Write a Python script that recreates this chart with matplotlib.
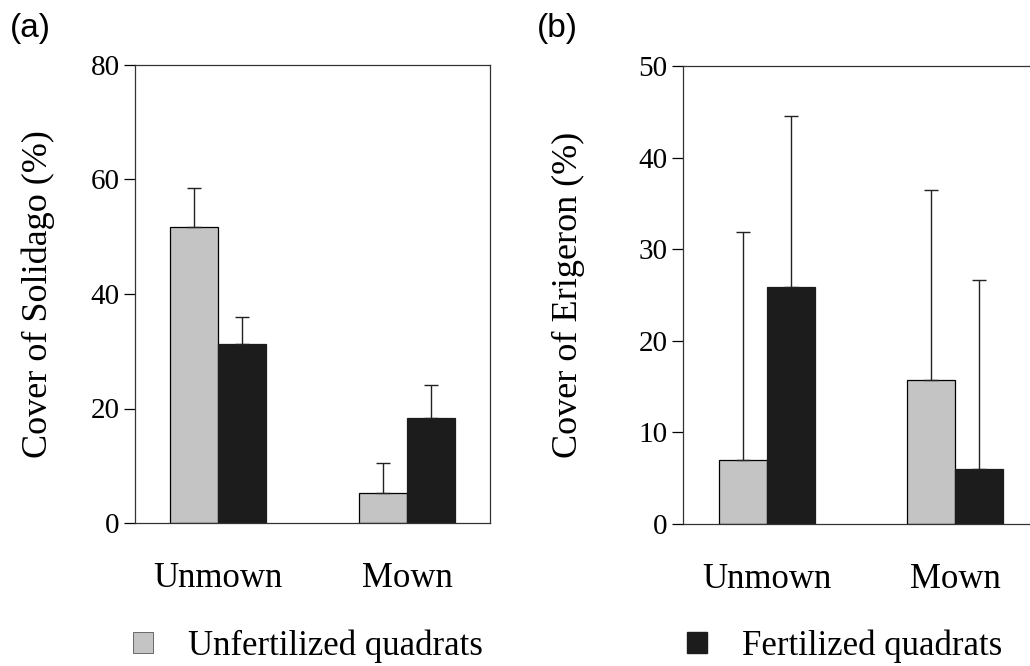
import numpy as np
import matplotlib
matplotlib.use("Agg")
import matplotlib.pyplot as plt
from matplotlib.patches import Patch

# data
groups = ["Unmown", "Mown"]
solidago_unfert = [51.7, 5.2]
solidago_unfert_err = [6.8, 5.3]
solidago_fert = [31.3, 18.3]
solidago_fert_err = [4.7, 5.8]
erigeron_unfert = [7.0, 15.7]
erigeron_unfert_err = [24.9, 20.8]
erigeron_fert = [25.9, 6.0]
erigeron_fert_err = [18.6, 20.6]

light = "#c4c4c4"
dark = "#1c1c1c"
serif = "Liberation Serif"

plt.rcParams['font.family'] = [serif, 'DejaVu Serif']

fig = plt.figure(figsize=(10.30, 6.66), dpi=100)

def panel(rect, unfert, unfert_err, fert, fert_err, ylim, yticks, ylabel, xlim, label_x):
    ax = fig.add_axes(rect)
    x = np.arange(len(groups))
    w = 0.254
    ekw = dict(ecolor="#222222", elinewidth=1, capsize=5, capthick=1)
    ax.bar(x - w/2, unfert, w, color=light, edgecolor="black", linewidth=0.9,
           yerr=[np.zeros(len(unfert)), unfert_err], error_kw=ekw, zorder=2)
    ax.bar(x + w/2, fert, w, color=dark, edgecolor=dark, linewidth=0.9,
           yerr=[np.zeros(len(fert)), fert_err], error_kw=ekw, zorder=2)
    ax.set_xlim(*xlim)
    ax.set_ylim(*ylim)
    ax.set_yticks(yticks)
    ax.set_xticks(x)
    ax.set_xticklabels(groups, fontsize=25)
    ax.tick_params(axis='x', length=0, pad=28)
    ax.tick_params(axis='y', direction='out', length=8, width=0.9, pad=3, labelsize=21)
    for s in ax.spines.values():
        s.set_linewidth(0.9)
        s.set_color("#333333")
    ax.set_ylabel(ylabel, fontsize=26)
    ax.yaxis.set_label_coords(label_x, 0.5)
    return ax

ax1 = panel([135/1030, 1-523/666, 355/1030, 458/666],
            solidago_unfert, solidago_unfert_err, solidago_fert, solidago_fert_err,
            (0, 80), [0, 20, 40, 60, 80], "Cover of Solidago (%)",
            (-0.439, 1.439), -0.225)
ax2 = panel([683/1030, 1-524/666, 355/1030, 458/666],
            erigeron_unfert, erigeron_unfert_err, erigeron_fert, erigeron_fert_err,
            (0, 50), [0, 10, 20, 30, 40, 50], "Cover of Erigeron (%)",
            (-0.447, 1.44), -0.276)
ax2.spines['right'].set_visible(False)

fig.text(10/1030, 1-28/666, "(a)", family="Liberation Sans", fontsize=24, va="center", ha="left")
fig.text(537/1030, 1-28/666, "(b)", family="Liberation Sans", fontsize=24, va="center", ha="left")

h1 = Patch(facecolor=light, edgecolor="#555555", linewidth=0.6)
h2 = Patch(facecolor=dark, edgecolor=dark)
lk = dict(frameon=False, borderpad=0, borderaxespad=0, handlelength=0.58, handleheight=0.58,
          handletextpad=1.0, prop={'family': serif, 'size': 25}, loc="center left")
fig.legend([h1], ["Unfertilized quadrats"], bbox_to_anchor=(133/1030, 1-646/666), **lk)
fig.legend([h2], ["Fertilized quadrats"], bbox_to_anchor=(687/1030, 1-646/666), **lk)

fig.savefig("out.png", dpi=100)
